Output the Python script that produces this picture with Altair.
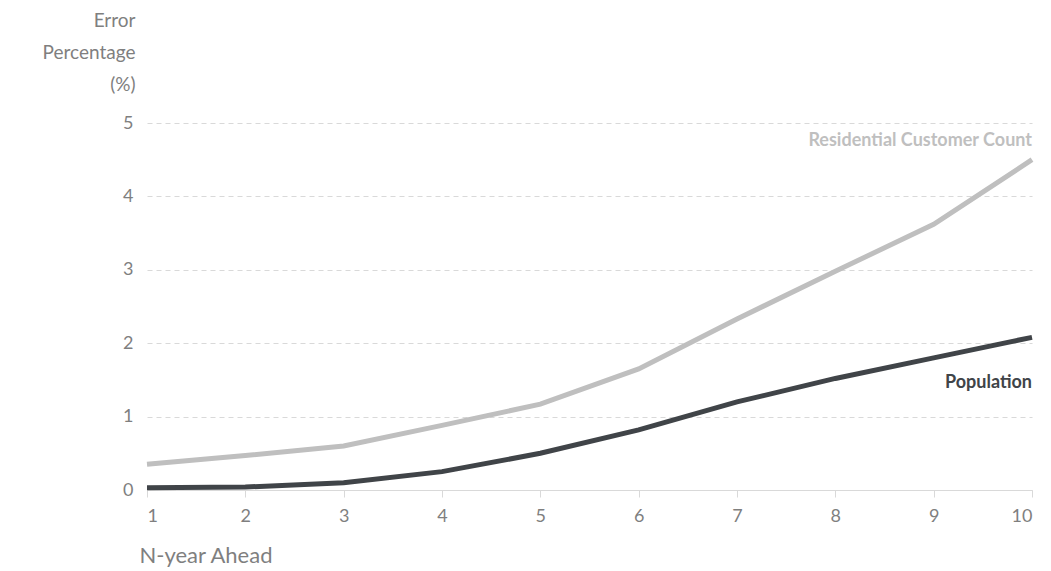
import altair as alt
import pandas as pd

years = [1, 2, 3, 4, 5, 6, 7, 8, 9, 10]
residential = [0.35, 0.47, 0.60, 0.88, 1.17, 1.65, 2.33, 2.98, 3.62, 4.50]
population = [0.03, 0.04, 0.10, 0.25, 0.50, 0.82, 1.20, 1.52, 1.80, 2.08]

series_names = ["Residential Customer Count", "Population"]
series_colors = ["#bfbfbf", "#404448"]
label_x = [10, 10]
label_y = [4.75, 1.46]

rows = []
for yr, r, p in zip(years, residential, population):
    rows.append({"year": yr, "value": r, "series": series_names[0]})
    rows.append({"year": yr, "value": p, "series": series_names[1]})
df = pd.DataFrame(rows)
labels = pd.DataFrame({"year": label_x, "value": label_y, "series": series_names})

FONT = "Lato"
color_scale = alt.Scale(domain=series_names, range=series_colors)

x_enc = alt.X("year:Q", scale=alt.Scale(domain=[1, 10], nice=False),
              axis=alt.Axis(values=years, format="d", title="N-year Ahead",
                            titleAlign="left", titleAnchor="start", titleBaseline="middle",
                            titleX=-8, titleY=65,
                            titleFontSize=22, titleFontWeight="normal", titleColor="#7f7f7f",
                            titleFont=FONT, labelFont=FONT, labelFontSize=18, labelColor="#7f7f7f",
                            labelPadding=10, domainColor="#d9d9d9", tickColor="#d9d9d9",
                            tickSize=7, grid=False))
y_enc = alt.Y("value:Q", scale=alt.Scale(domain=[0, 5], nice=False),
              axis=alt.Axis(values=[0, 1, 2, 3, 4, 5], format="d",
                            title=["Error", "Percentage", "(%)"],
                            titleAngle=0, titleAlign="right", titleBaseline="alphabetic",
                            titleX=-12, titleY=-97, titleFontSize=19, titleLineHeight=32,
                            titleFontWeight="normal", titleColor="#7f7f7f", titleFont=FONT,
                            labelFont=FONT, labelFontSize=18, labelColor="#7f7f7f",
                            labelPadding=14, domain=False, ticks=False,
                            grid=True, gridDash=[5, 4], gridColor="#d9d9d9", gridWidth=1.2))

lines = alt.Chart(df).mark_line(strokeWidth=5).encode(
    x=x_enc, y=y_enc,
    color=alt.Color("series:N", scale=color_scale, legend=None),
    detail="series:N",
)

text = alt.Chart(labels).mark_text(align="right", baseline="middle", fontWeight="bold",
                                   fontSize=18, font=FONT, dx=0).encode(
    x="year:Q", y="value:Q",
    color=alt.Color("series:N", scale=color_scale, legend=None),
    text="series:N",
)

chart = (lines + text).properties(
    width=885, height=367,
    autosize=alt.AutoSizeParams(type="none"),
    padding={"left": 139, "top": 115, "right": 11, "bottom": 80},
).configure(background="white").configure_view(stroke=None)

chart.save("out.html", embed_options={"renderer": "svg", "actions": False})
